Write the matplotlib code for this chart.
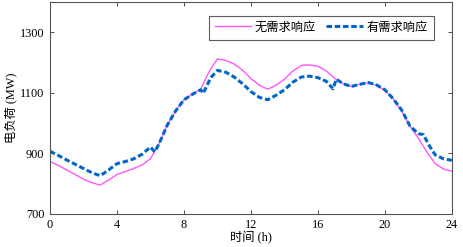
import matplotlib
matplotlib.use("Agg")
import matplotlib.pyplot as plt

# Load without demand response (pink solid line)
hours_base = [0, 0.5, 1, 1.5, 2, 2.5, 3, 3.5, 4, 4.5, 5, 5.5, 6, 6.5, 7, 7.5, 8,
              8.5, 9, 9.5, 10, 10.5, 11, 11.5, 12, 12.5, 13, 13.5, 14, 14.5, 15,
              15.5, 16, 16.5, 17, 17.5, 18, 18.5, 19, 19.5, 20, 20.5, 21, 21.5,
              22, 22.5, 23, 23.5, 24]
load_base = [873, 860, 845, 830, 815, 803, 795, 812, 830, 840, 850, 862, 882,
             930, 993, 1040, 1077, 1095, 1112, 1170, 1212, 1207, 1195, 1175,
             1147, 1125, 1112, 1125, 1145, 1172, 1190, 1192, 1188, 1172, 1148,
             1130, 1121, 1128, 1133, 1125, 1108, 1080, 1040, 990, 950, 905, 866,
             848, 841]

# Load with demand response (blue dashed line)
hours_dr = [0, 0.5, 1, 1.5, 2, 2.5, 3, 3.5, 4, 4.5, 5, 5.5, 6, 6.25, 6.5, 7,
            7.5, 8, 8.5, 9, 9.15, 9.6, 10, 10.5, 11, 11.5, 12, 12.5, 13, 13.5,
            14, 14.5, 15, 15.5, 16, 16.5, 16.9, 17.1, 17.5, 18, 18.5, 19, 19.5,
            20, 20.5, 21, 21.5, 22, 22.3, 22.6, 23, 23.5, 24]
load_dr = [907, 893, 878, 864, 850, 836, 826, 845, 866, 873, 882, 897, 921, 905,
           930, 993, 1040, 1077, 1095, 1110, 1098, 1150, 1174, 1168, 1152, 1130,
           1104, 1085, 1077, 1092, 1110, 1135, 1152, 1155, 1150, 1138, 1113,
           1145, 1130, 1121, 1128, 1134, 1126, 1110, 1080, 1043, 990, 965, 962,
           930, 895, 882, 877]

x_ticks = [0, 4, 8, 12, 16, 20, 24]
y_ticks = [700, 900, 1100, 1300]

plt.rcParams["font.family"] = ["Liberation Serif", "Noto Sans CJK SC"]
plt.rcParams["font.size"] = 8.8

fig = plt.figure(figsize=(4.63, 2.47), dpi=100)
ax = fig.add_axes([0.108, 0.134, 0.868, 0.858])

ax.plot(hours_base, load_base, color="#ff55ff", linewidth=1.0, label="无需求响应")
ax.plot(hours_dr, load_dr, color="#0066c8", linewidth=2.2, linestyle=(0, (1.8, 0.9)),
        label="有需求响应")

ax.set_xlim(0, 24)
ax.set_ylim(700, 1400)
ax.set_xticks(x_ticks)
ax.set_yticks(y_ticks)
ax.tick_params(direction="in", top=True, right=True, length=3, width=0.6,
               colors="#333333", labelcolor="black", pad=4)
for spine in ax.spines.values():
    spine.set_color("#555555")
    spine.set_linewidth(0.8)

ax.set_xlabel("时间 (h)", labelpad=0)
ax.set_ylabel("电负荷 (MW)", labelpad=2)

legend = ax.legend(loc="upper right", ncol=2, frameon=True, fancybox=False,
                   edgecolor="#333333", handlelength=3.0, columnspacing=0.8,
                   handletextpad=0.3, borderpad=0.5, bbox_to_anchor=(0.97, 0.965))
legend.get_frame().set_linewidth(0.8)

fig.savefig("out.png", dpi=100)
